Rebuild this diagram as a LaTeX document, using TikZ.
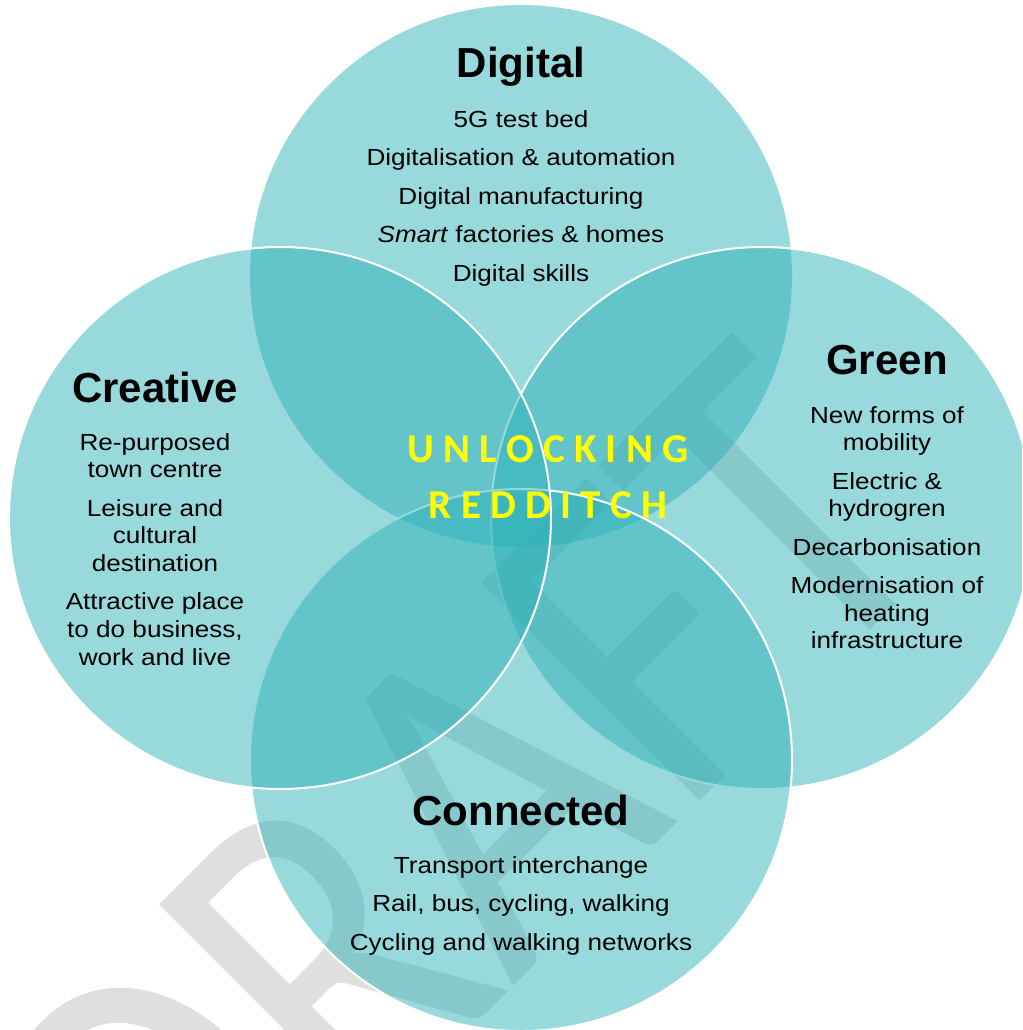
\documentclass[tikz,border=0pt]{standalone}
\usepackage{fontspec}
\setmainfont{Liberation Sans}
\newfontfamily\bodyfont{Liberation Sans}[FakeStretch=1.12]
\newfontfamily\titlefont{Carlito}
\newfontfamily\markfont{Carlito}[FakeStretch=0.85]
\usepackage{tikz}
\definecolor{vennteal}{RGB}{43,177,183}
\definecolor{markgray}{RGB}{223,223,223}
\definecolor{unlock}{RGB}{255,255,0}
\newcommand{\toprule}{\rule{0pt}{20pt}}

\begin{document}
\begin{tikzpicture}
  [
    x=1pt, y=-1pt,
    Venn/.style={circle, fill=vennteal, fill opacity=0.485, inner sep=0pt, minimum size=542pt},
    Edge/.style={Venn, draw=white, line width=2pt},
    Head/.style={anchor=base, inner sep=0pt, font=\fontsize{42}{50}\selectfont\bfseries},
    Body/.style={anchor=north, inner sep=0pt, align=center, font=\bodyfont\fontsize{23.3}{27.7}\selectfont},
    Title/.style={anchor=base, inner sep=0pt, text=unlock, font=\titlefont\fontsize{41}{41}\selectfont\bfseries},
    Mark/.style={anchor=base, inner sep=0pt, rotate=45, text=markgray, font=\markfont\fontsize{480}{480}\selectfont}
  ]
  \useasboundingbox (0,0) rectangle (1022,1030);
  \clip (0,0) rectangle (1022,1030);

  % Watermark
  \node[Mark] (draft) at (566, 934) {DRAFT};

  % Circles
  \node[Venn] (digital) at (521, 276) {};
  \node[Edge] (green) at (762, 518) {};
  \node[Edge] (connected) at (521, 760) {};
  \node[Edge] (creative) at (280, 518) {};

  % Headings
  \node[Head] (digital-head) at (521, 78) {Digital};
  \node[Head] (creative-head) at (155, 402) {Creative};
  \node[Head] (green-head) at (887, 374) {Green};
  \node[Head] (connected-head) at (521, 825) {Connected};

  % Lists
  \node[Body] (digital-list) at (521, 107) {\toprule 5G test bed\\[10.8pt]
    Digitalisation \& automation\\[10.8pt]
    Digital manufacturing\\[10.8pt]
    \textit{Smart} factories \& homes\\[10.8pt]
    Digital skills};
  \node[Body] (creative-list) at (155, 430) {\toprule Re-purposed\\ town centre\\[10.6pt]
    Leisure and\\ cultural\\ destination\\[10.6pt]
    Attractive place\\ to do business,\\ work and live};
  \node[Body] (green-list) at (887, 403) {\toprule New forms of\\ mobility\\[10.6pt]
    Electric \&\\ hydrogren\\[10.6pt]
    Decarbonisation\\[10.6pt]
    Modernisation of\\ heating\\ infrastructure};
  \node[Body] (connected-list) at (521, 853) {\toprule Transport interchange\\[10.8pt]
    Rail, bus, cycling, walking\\[10.8pt]
    Cycling and walking networks};

  % Centre title
  \node[Title] (unlocking) at (548, 462) {U N L O C K I N G};
  \node[Title] (redditch) at (548, 518) {R E D D I T C H};

\end{tikzpicture}
\end{document}
